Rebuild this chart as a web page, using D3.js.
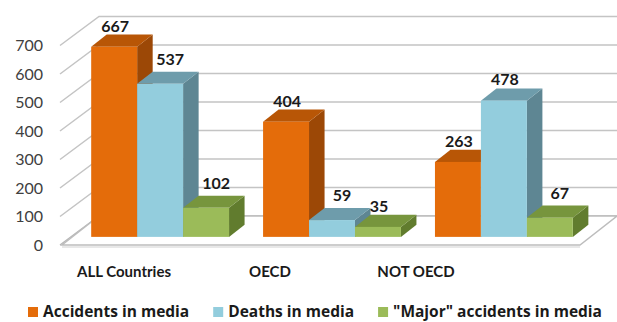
<!DOCTYPE html>
<html>
<head>
<meta charset="utf-8">
<script src="https://cdn.jsdelivr.net/npm/d3@7"></script>
<style>
  html, body { margin: 0; padding: 0; background: #fff; }
  svg { display: block; }
</style>
</head>
<body>
<svg id="chart" width="617" height="322"></svg>
<script>
// ---- data ----
const categories = ["ALL Countries", "OECD", "NOT OECD"];
const seriesNames = ["Accidents in media", "Deaths in media", "\"Major\" accidents in media"];
const accidents = [667, 404, 263];
const deaths = [537, 59, 478];
const major = [102, 35, 67];
const yTicks = [0, 100, 200, 300, 400, 500, 600, 700];

const seriesValues = [accidents, deaths, major];
const frontColors = ["#E46C0A", "#93CDDD", "#9BBB59"];
const topColors   = ["#B85606", "#6E9CAB", "#77953D"];
const sideColors  = ["#9C4806", "#5E8693", "#617C2E"];

const FONT = "Lato, 'Open Sans', sans-serif";
const svg = d3.select("#chart");

// ---- geometry ----
const floorFrontY = 245;
const depth = { dx: 37, dy: -29 };
const barFront = 0.28, barBack = 0.70;
const wallLeftX = 62, floorRightX = 580;

const y = d3.scaleLinear().domain([0, 700]).range([floorFrontY, floorFrontY - 199.5]);

const xGroup = d3.scaleBand().domain(categories).range([74, 590]).paddingInner(0.198).paddingOuter(0.1);
const xSeries = d3.scaleBand().domain(d3.range(3)).range([0, xGroup.bandwidth()]);
const xLabel = d3.scalePoint().domain(categories).range([124, 416]);

const off = f => ({ dx: depth.dx * f, dy: depth.dy * f });

// ---- walls & gridlines ----
const grid = svg.append("g");
yTicks.forEach(t => {
  const fy = y(t), by = y(t) + depth.dy;
  grid.append("path")
    .attr("d", `M${wallLeftX - 2},${fy} L${wallLeftX + depth.dx},${by} L${617},${by}`)
    .attr("fill", "none")
    .attr("stroke", t === 0 ? "#b8b8b8" : "#c4c4c4")
    .attr("stroke-width", 1.5);
});

// floor
svg.append("path")
  .attr("d", `M${wallLeftX},${floorFrontY} L${floorRightX},${floorFrontY} L${floorRightX + depth.dx},${floorFrontY + depth.dy} L${wallLeftX + depth.dx},${floorFrontY + depth.dy} Z`)
  .attr("fill", "#ffffff")
  .attr("stroke", "#bdbdbd")
  .attr("stroke-width", 1.5);
svg.append("line")
  .attr("x1", wallLeftX).attr("x2", floorRightX)
  .attr("y1", floorFrontY + 2).attr("y2", floorFrontY + 2)
  .attr("stroke", "#e0e0e0").attr("stroke-width", 1.5);

// y tick labels
svg.append("g").selectAll("text").data(yTicks).join("text")
  .attr("x", 43)
  .attr("y", d => y(d))
  .attr("dy", "0.36em")
  .attr("text-anchor", "end")
  .style("font-family", FONT)
  .style("font-size", "16px")
  .attr("fill", "#404040")
  .text(d => d);

// ---- bars ----
const o1 = off(barFront), o2 = off(barBack);
const bd = { dx: o2.dx - o1.dx, dy: o2.dy - o1.dy };
const bars = svg.append("g");
const labels = [];
categories.forEach((c, ci) => {
  seriesValues.forEach((vals, si) => {
    const v = vals[ci];
    const x0 = xGroup(c) + xSeries(si);
    const w = xSeries.bandwidth();
    const yb = y(0) + o1.dy;
    const yt = y(v) + o1.dy;
    const g = bars.append("g");
    g.append("path")
      .attr("d", `M${x0 + w},${yb} L${x0 + w + bd.dx},${yb + bd.dy} L${x0 + w + bd.dx},${yt + bd.dy} L${x0 + w},${yt} Z`)
      .attr("fill", sideColors[si]);
    g.append("path")
      .attr("d", `M${x0},${yt} L${x0 + w},${yt} L${x0 + w + bd.dx},${yt + bd.dy} L${x0 + bd.dx},${yt + bd.dy} Z`)
      .attr("fill", topColors[si]);
    g.append("rect")
      .attr("x", x0).attr("y", yt)
      .attr("width", w).attr("height", yb - yt)
      .attr("fill", frontColors[si]);
    const prev = si > 0 ? seriesValues[si - 1][ci] : 0;
    const crowded = prev - v > 50;
    labels.push({
      x: x0 + w / 2 + (crowded ? 10 : 1),
      y: yt + bd.dy - (crowded ? 7 : 3),
      v
    });
  });
});

// data labels
svg.append("g").selectAll("text").data(labels).join("text")
  .attr("x", d => d.x)
  .attr("y", d => d.y)
  .attr("text-anchor", "middle")
  .style("font-family", FONT)
  .style("font-size", "16px")
  .style("font-weight", "bold")
  .attr("fill", "#1a1a1a")
  .text(d => d.v);

// category labels
svg.append("g").selectAll("text").data(categories).join("text")
  .attr("x", d => xLabel(d))
  .attr("y", 277)
  .attr("text-anchor", "middle")
  .style("font-family", FONT)
  .style("font-size", "15px")
  .style("font-weight", "bold")
  .attr("fill", "#1a1a1a")
  .text(d => d);

// legend
const legend = svg.append("g");
let lx = 28;
seriesNames.forEach((name, i) => {
  legend.append("rect")
    .attr("x", lx).attr("y", 307).attr("width", 10).attr("height", 10)
    .attr("fill", frontColors[i]);
  const t = legend.append("text")
    .attr("x", lx + 15).attr("y", 317)
    .style("font-family", "'Open Sans', Lato, sans-serif")
    .style("font-size", "15.5px")
    .style("font-weight", "bold")
    .attr("fill", "#1a1a1a")
    .text(name);
  lx += 15 + t.node().getComputedTextLength() + 24;
});
</script>
</body>
</html>
